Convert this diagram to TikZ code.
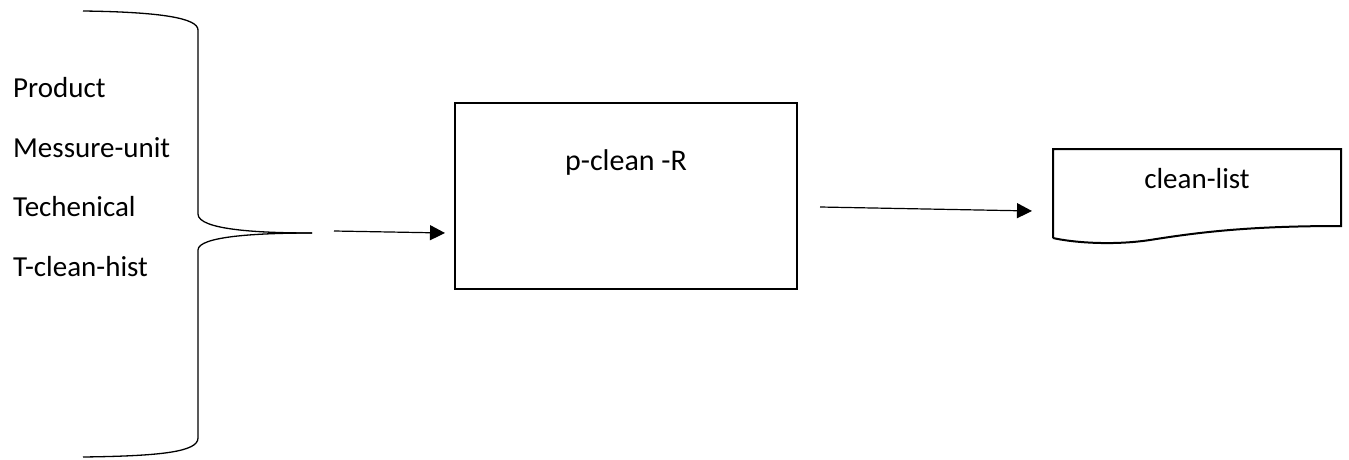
\documentclass[tikz,border=0pt]{standalone}
\usepackage{fontspec}
\setmainfont{Carlito}
\usetikzlibrary{arrows.meta}
\tikzset{
  lbl/.style={font=\fontsize{29}{32}\selectfont, inner sep=0pt},
  arr/.style={-{Triangle[length=15pt,width=15pt]}, line width=1.2pt},
  boxline/.style={line width=2pt}
}
\begin{document}
\begin{tikzpicture}[x=1pt, y=-1pt]
  \useasboundingbox (0,0) rectangle (1349,460);
  % input list
  \node[lbl, anchor=west] (prod) at (13,88) {Product};
  \node[lbl, anchor=west] (unit) at (13,148) {Messure-unit};
  \node[lbl, anchor=west] (tech) at (13,207) {Techenical};
  \node[lbl, anchor=west] (hist) at (13,267) {T-clean-hist};
  % brace
  \coordinate (btop) at (83,11);
  \coordinate (tip) at (312,233);
  \coordinate (bbot) at (83,457);
  \draw[line width=1.3pt] (btop) .. controls (160,12) and (198,18) .. (198,30)
    -- (198,214) .. controls (198,230) and (260,233) .. (tip);
  \draw[line width=1.3pt] (tip) .. controls (260,233) and (198,236) .. (198,250)
    -- (198,438) .. controls (198,452) and (160,456) .. (bbot);
  % process box
  \node[draw, boxline, minimum width=342pt, minimum height=186pt, inner sep=0pt] (pclean) at (626,196) {};
  \node[lbl, font=\fontsize{30}{32}\selectfont] (ptext) at ([yshift=33pt]pclean.center) {p-clean -R};
  % output document
  \coordinate (d1) at (1053,149);
  \coordinate (d2) at (1341,149);
  \coordinate (d3) at (1341,226);
  \coordinate (d4) at (1053,238);
  \draw[boxline, line join=miter] (d4) -- (d1) -- (d2) -- (d3)
    .. controls (1250,226) and (1200,232) .. (1150,240)
    .. controls (1110,246) and (1070,242) .. (d4);
  \node[lbl] (clist) at (1197,179) {clean-list};
  % connectors
  \coordinate (a1s) at (334,231);
  \coordinate (a1e) at (445,233);
  \coordinate (a2s) at (820,207);
  \coordinate (a2e) at (1032,211);
  \draw[arr] (a1s) -- (a1e);
  \draw[arr] (a2s) -- (a2e);
\end{tikzpicture}
\end{document}
